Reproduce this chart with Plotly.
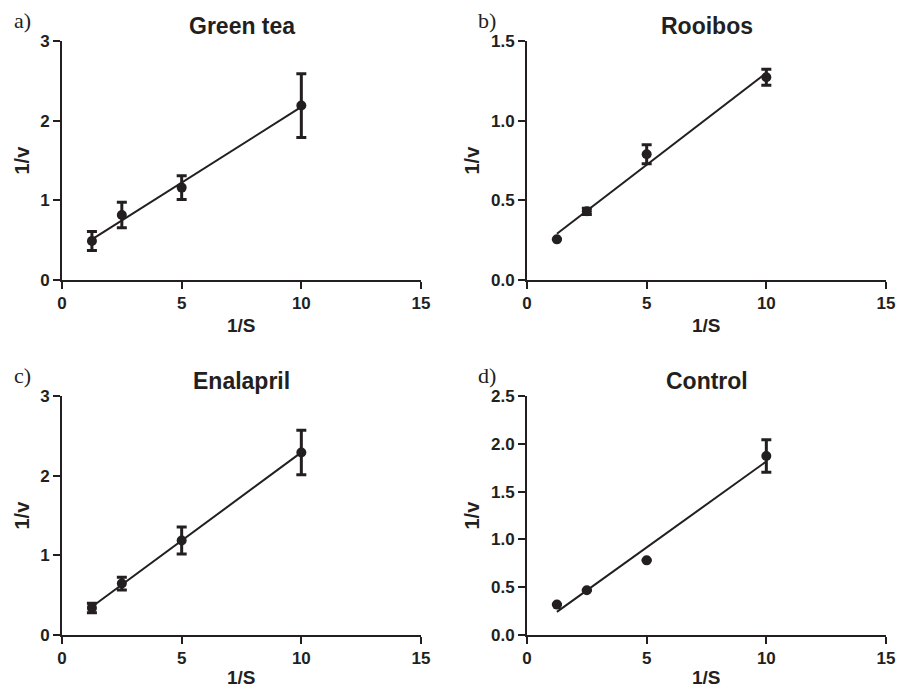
import numpy as np
import plotly.graph_objects as go

# ---- data ----
inv_s = [1.25, 2.5, 5, 10]

green_tea_y = [0.49, 0.815, 1.16, 2.19]
green_tea_err = [0.12, 0.16, 0.15, 0.40]

rooibos_y = [0.255, 0.431, 0.789, 1.272]
rooibos_err = [0.0, 0.02, 0.06, 0.05]

enalapril_y = [0.34, 0.646, 1.186, 2.29]
enalapril_err = [0.06, 0.08, 0.17, 0.28]

control_y = [0.318, 0.468, 0.781, 1.873]
control_err = [0.0, 0.0, 0.0, 0.17]

titles = ["Green tea", "Rooibos", "Enalapril", "Control"]
panel_letters = ["a)", "b)", "c)", "d)"]
x_tick_vals = [0, 5, 10, 15]
x_tick_text = ["0", "5", "10", "15"]
y_tick_vals = [[0, 1, 2, 3], [0, 0.5, 1.0, 1.5], [0, 1, 2, 3],
               [0, 0.5, 1.0, 1.5, 2.0, 2.5]]
y_tick_text = [["0", "1", "2", "3"], ["0.0", "0.5", "1.0", "1.5"],
               ["0", "1", "2", "3"], ["0.0", "0.5", "1.0", "1.5", "2.0", "2.5"]]
y_ranges = [[0, 3], [0, 1.5], [0, 3], [0, 2.5]]
x_range = [0, 15]

series = [
    (green_tea_y, green_tea_err),
    (rooibos_y, rooibos_err),
    (enalapril_y, enalapril_err),
    (control_y, control_err),
]

# ---- layout geometry (pixels) ----
W, H = 897, 690
INK = "#231f20"
col_px = [(62, 421), (527, 886)]
row_px = [(41, 280), (396, 635)]
xtitle_offset = [45, 42]


def px_x(p):
    return p / W


def px_y(p):
    return 1 - p / H


def bold(t):
    return f"<b>{t}</b>"


fig = go.Figure()
annotations = []
for i, ((yv, ye), title) in enumerate(zip(series, titles)):
    r, c = divmod(i, 2)
    n = i + 1
    xa = "x" if n == 1 else f"x{n}"
    ya = "y" if n == 1 else f"y{n}"

    # fitted regression line
    slope, intercept = np.polyfit(inv_s, yv, 1)
    xf = [min(inv_s), max(inv_s)]
    yf = [slope * xx + intercept for xx in xf]
    fig.add_trace(go.Scatter(x=xf, y=yf, mode="lines", xaxis=xa, yaxis=ya,
                             line=dict(color=INK, width=2), showlegend=False,
                             hoverinfo="skip"))
    fig.add_trace(go.Scatter(
        x=inv_s, y=yv, mode="markers", xaxis=xa, yaxis=ya, showlegend=False,
        marker=dict(color=INK, size=10),
        error_y=dict(type="data", array=ye, visible=True, color=INK,
                     thickness=3, width=5)))

    x0, x1 = col_px[c]
    y0, y1 = row_px[r]
    axis_common = dict(showline=True, linewidth=2, linecolor=INK,
                       ticks="outside", ticklen=7, tickwidth=2, tickcolor=INK,
                       showgrid=False, zeroline=False, tickmode="array",
                       ticklabeloverflow="allow", automargin=False,
                       tickfont=dict(family="Liberation Sans", size=17,
                                     color=INK))
    fig.update_layout({
        f"xaxis{'' if n == 1 else n}": dict(
            domain=[px_x(x0), px_x(x1)], anchor=ya, range=x_range,
            tickvals=x_tick_vals, ticktext=[bold(t) for t in x_tick_text],
            **axis_common),
        f"yaxis{'' if n == 1 else n}": dict(
            domain=[px_y(y1), px_y(y0)], anchor=xa, range=y_ranges[i],
            tickvals=y_tick_vals[i],
            ticktext=[bold(t) for t in y_tick_text[i]], **axis_common),
    })

    cx = (x0 + x1) / 2
    # panel title
    annotations.append(dict(text=bold(title), x=px_x(cx), y=px_y(y0 - 15),
                            xref="paper", yref="paper", showarrow=False,
                            xanchor="center", yanchor="middle",
                            font=dict(family="Liberation Sans", size=23,
                                      color=INK)))
    # panel letter
    annotations.append(dict(text=panel_letters[i], x=px_x(x0 - 40),
                            y=px_y(y0 - 21), xref="paper", yref="paper",
                            showarrow=False, xanchor="center", yanchor="middle",
                            font=dict(family="Liberation Serif", size=22,
                                      color=INK)))
    # x axis title
    annotations.append(dict(text=bold("1/S"), x=px_x(cx),
                            y=px_y(y1 + xtitle_offset[r]),
                            xref="paper", yref="paper", showarrow=False,
                            xanchor="center", yanchor="middle", borderpad=0,
                            font=dict(family="Liberation Sans", size=19,
                                      color=INK)))
    # y axis title
    ytx = 21 if c == 0 else 471
    annotations.append(dict(text=bold("1/v"), x=px_x(ytx),
                            y=px_y((y0 + y1) / 2),
                            xref="paper", yref="paper", showarrow=False,
                            textangle=-90, xanchor="center", yanchor="middle",
                            font=dict(family="Liberation Sans", size=20,
                                      color=INK)))

fig.update_layout(width=W, height=H,
                  margin=dict(l=0, r=0, t=0, b=0, pad=0, autoexpand=False),
                  plot_bgcolor="white", paper_bgcolor="white",
                  annotations=annotations, showlegend=False)

fig.write_html("out.html", config={"displayModeBar": False},
               post_script="document.body.style.margin='0';"
                           "document.body.style.padding='0';")
